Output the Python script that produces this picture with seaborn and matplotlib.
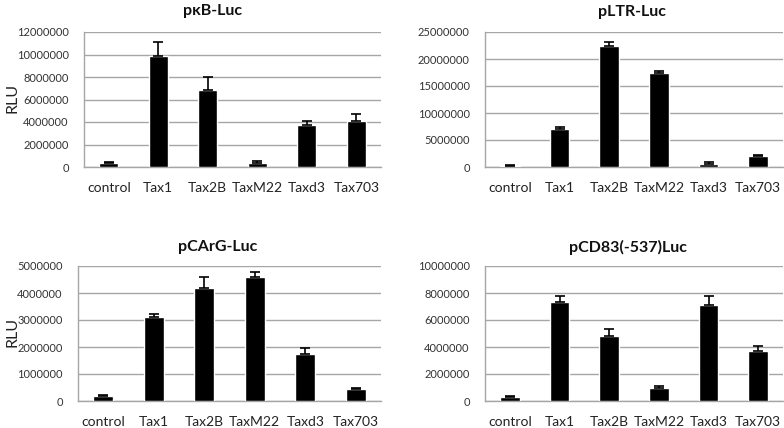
import numpy as np
import pandas as pd
import seaborn as sns
import matplotlib.pyplot as plt

sns.set_style("white")
plt.rcParams['font.family'] = ['Lato', 'DejaVu Sans']

constructs = ["control", "Tax1", "Tax2B", "TaxM22", "Taxd3", "Tax703"]

# values (RLU), mean and upper error
kb_mean = [380000, 9900000, 6850000, 380000, 3700000, 4050000]
kb_err = [70000, 1200000, 1150000, 180000, 400000, 650000]

ltr_mean = [250000, 7100000, 22500000, 17400000, 550000, 2100000]
ltr_err = [150000, 400000, 700000, 400000, 300000, 200000]

carg_mean = [200000, 3100000, 4200000, 4600000, 1750000, 450000]
carg_err = [30000, 120000, 400000, 170000, 220000, 30000]

cd83_mean = [300000, 7300000, 4800000, 950000, 7100000, 3700000]
cd83_err = [60000, 450000, 500000, 150000, 650000, 400000]

panels = [
    ("p\u03baB-Luc", kb_mean, kb_err, 12000000, 2000000, True),
    ("pLTR-Luc", ltr_mean, ltr_err, 25000000, 5000000, False),
    ("pCArG-Luc", carg_mean, carg_err, 5000000, 1000000, True),
    ("pCD83(-537)Luc", cd83_mean, cd83_err, 10000000, 2000000, False),
]

# plot areas in pixels (x0, y0, x1, y1)
W, H = 784, 428
boxes = [
    (84, 32, 381, 167),
    (485, 32, 783, 167),
    (78, 266, 381, 401),
    (485, 266, 783, 401),
]
title_pos = [(213, 11), (632, 12), (218, 247), (628, 247)]

fig = plt.figure(figsize=(7.84, 4.28), dpi=100)
grey = "#a6a6a6"

for (title, mean, err, ymax, step, rlu), (x0, y0, x1, y1), (tx, ty) in zip(panels, boxes, title_pos):
    ax = fig.add_axes([x0 / W, 1 - y1 / H, (x1 - x0) / W, (y1 - y0) / H])
    df = pd.DataFrame({"construct": constructs, "RLU": mean, "err": err})
    sns.barplot(data=df, x="construct", y="RLU", color="black", width=0.39,
                saturation=1, ax=ax, zorder=3)
    xs = np.arange(len(constructs))
    ax.errorbar(xs, df["RLU"], yerr=[np.zeros(len(err)), df["err"]], fmt="none",
                ecolor="black", elinewidth=1.2, capsize=3.5, capthick=1.2, zorder=4)
    ax.set_ylim(0, ymax)
    ax.set_xlim(-0.5, len(constructs) - 0.5)
    ticks = np.arange(0, ymax + 1, step)
    ax.set_yticks(ticks)
    ax.set_yticklabels([str(int(v)) for v in ticks], fontsize=8, color="#333333")
    ax.tick_params(axis="x", labelsize=10, pad=11, length=0, colors="#222222")
    ax.tick_params(axis="y", pad=11, length=0)
    ax.grid(axis="y", color=grey, linewidth=1.0, zorder=0)
    ax.set_axisbelow(True)
    for s in ["top", "right"]:
        ax.spines[s].set_visible(False)
    for s in ["left", "bottom"]:
        ax.spines[s].set_color(grey)
        ax.spines[s].set_linewidth(1.0)
    ax.set_xlabel("")
    ax.set_ylabel("")
    fig.text(tx / W, 1 - ty / H, title, ha="center", va="center", fontsize=11.5,
             fontweight="bold", color="#111111")
    if rlu:
        yc = 1 - ((y0 + y1) / 2 - 2) / H
        fig.text(12 / W, yc, "RLU", rotation=90, ha="center", va="center",
                 fontsize=11.5, color="#222222")

fig.savefig("out.png", dpi=100)
